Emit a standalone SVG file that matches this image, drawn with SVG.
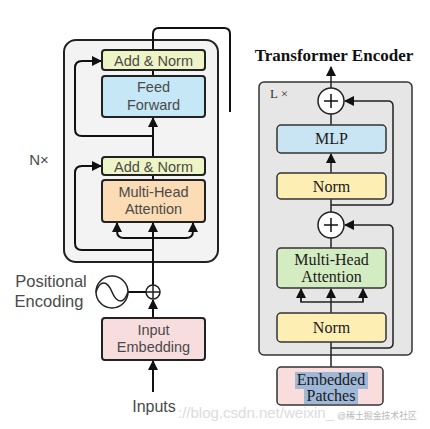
<svg xmlns="http://www.w3.org/2000/svg" width="430" height="429" viewBox="0 0 430 429">
<defs>
<style>
.lt{font-family:"Liberation Sans",Arial,sans-serif;fill:#4a4a4a;text-anchor:middle}
.lb{stroke:#222;stroke-width:2}
.ln{fill:none;stroke:#111;stroke-width:2}
.rt{font-family:"Liberation Serif","Times New Roman",serif;fill:#1a1a1a;text-anchor:middle;font-size:16px}
.rb{stroke:#333;stroke-width:1.5}
.rl{fill:none;stroke:#222;stroke-width:1.5}
</style>
<marker id="al" viewBox="0 0 10 10" refX="9" refY="5" markerWidth="5" markerHeight="5" orient="auto"><path d="M0,0 L10,5 L0,10 z" fill="#111"/></marker>
<marker id="ar" viewBox="0 0 10 10" refX="9" refY="5" markerWidth="7" markerHeight="7" orient="auto"><path d="M0,0 L10,5 L0,10 z" fill="#111"/></marker>
</defs>
<rect width="430" height="429" fill="#fff"/>

<!-- LEFT: original Transformer encoder -->
<g id="left-block">
<rect x="64" y="40" width="154" height="222" rx="12" fill="#f3f3f3" class="lb"/>
</g>
<text class="lt" x="39" y="165" font-size="15">N×</text>

<g id="connectors-left">
<path class="ln" d="M153,50 V34 Q153,28 159,28 H224 Q230,28 230,34 V112"/>
<line class="ln" x1="153" y1="70" x2="153" y2="76"/>
<line class="ln" x1="153" y1="157" x2="153" y2="118" marker-end="url(#al)"/>
<path class="ln" d="M153,136 H82 Q75,136 75,129 V68 Q75,61 82,61 H101" marker-end="url(#al)"/>
<line class="ln" x1="153" y1="175" x2="153" y2="180"/>
<path class="ln" d="M153,250 H82 Q75,250 75,243 V173 Q75,166 82,166 H101" marker-end="url(#al)"/>
<line class="ln" x1="153" y1="285" x2="153" y2="223" marker-end="url(#al)"/>
<path class="ln" d="M153,238 H124 Q117,238 117,231 V223" marker-end="url(#al)"/>
<path class="ln" d="M153,238 H186 Q193,238 193,231 V223" marker-end="url(#al)"/>
<line class="ln" x1="128" y1="292" x2="146" y2="292"/>
<line class="ln" x1="153" y1="318" x2="153" y2="300" marker-end="url(#al)"/>
<line class="ln" x1="153" y1="392" x2="153" y2="361" marker-end="url(#al)"/>
</g>

<g id="add-norm-1">
<rect x="102" y="50" width="103" height="20" rx="3" fill="#eff4c6" class="lb"/>
<text class="lt" x="153.5" y="65.5" font-size="14.5">Add &amp; Norm</text>
</g>
<g id="feed-forward">
<rect x="102" y="76" width="103" height="41" rx="3" fill="#c6e7f5" class="lb"/>
<text class="lt" x="153.5" y="92" font-size="14.5">Feed</text>
<text class="lt" x="153.5" y="110" font-size="14.5">Forward</text>
</g>
<g id="add-norm-2">
<rect x="102" y="157" width="103" height="18" rx="3" fill="#eff4c6" class="lb"/>
<text class="lt" x="153.5" y="171.5" font-size="14.5">Add &amp; Norm</text>
</g>
<g id="mha-left">
<rect x="102" y="180" width="103" height="42" rx="3" fill="#fbdcb5" class="lb"/>
<text class="lt" x="153.5" y="196.5" font-size="14.5">Multi-Head</text>
<text class="lt" x="153.5" y="214" font-size="14.5">Attention</text>
</g>
<g id="pos-enc">
<circle cx="112" cy="292" r="16" fill="#fff" stroke="#222" stroke-width="1.5"/>
<path d="M96,292 C100,280 107,280 112,292 C117,304 124,304 128,292" fill="none" stroke="#222" stroke-width="1.5"/>
<text class="lt" x="51" y="287" font-size="16.5" fill="#5a5a5a">Positional</text>
<text class="lt" x="49" y="307" font-size="16.5" fill="#5a5a5a">Encoding</text>
</g>
<g id="plus-left">
<circle cx="153" cy="292" r="7" fill="#fff" stroke="#222" stroke-width="1.5"/>
<path d="M146,292 H160 M153,285 V299" stroke="#222" stroke-width="1.5"/>
</g>
<g id="input-embedding">
<rect x="102" y="318" width="103" height="42" rx="3" fill="#f7dddd" class="lb"/>
<text class="lt" x="153.5" y="335" font-size="14.5">Input</text>
<text class="lt" x="153.5" y="352" font-size="14.5">Embedding</text>
</g>
<text class="lt" x="154" y="412" font-size="16">Inputs</text>

<!-- RIGHT: ViT Transformer Encoder -->
<text x="334" y="61" font-family="'Liberation Serif','Times New Roman',serif" font-weight="bold" font-size="17" text-anchor="middle" fill="#111">Transformer Encoder</text>
<g id="right-block">
<rect x="259" y="82" width="153" height="273" rx="5" fill="#e6e6e6" class="rb"/>
<text x="270" y="98" font-family="'Liberation Serif','Times New Roman',serif" font-size="13" fill="#333">L ×</text>
</g>

<g id="connectors-right">
<line class="rl" x1="331" y1="88" x2="331" y2="67" marker-end="url(#ar)"/>
<line class="rl" x1="331" y1="125" x2="331" y2="114"/>
<line class="rl" x1="331" y1="173" x2="331" y2="154" marker-end="url(#ar)"/>
<path class="rl" d="M331,205 H388 Q393,205 393,200 V106 Q393,101 388,101 H345" marker-end="url(#ar)"/>
<line class="rl" x1="331" y1="212" x2="331" y2="199"/>
<line class="rl" x1="331" y1="248" x2="331" y2="238"/>
<line class="rl" x1="331" y1="313" x2="331" y2="289" marker-end="url(#ar)"/>
<path class="rl" d="M301,289 V302 H363 V289" />
<line class="rl" x1="301" y1="302" x2="301" y2="289" marker-end="url(#ar)"/>
<line class="rl" x1="363" y1="302" x2="363" y2="289" marker-end="url(#ar)"/>
<line class="rl" x1="331" y1="367" x2="331" y2="342"/>
<path class="rl" d="M331,348 H388 Q393,348 393,343 V230 Q393,225 388,225 H345" marker-end="url(#ar)"/>
</g>

<g id="plus-1">
<circle cx="331" cy="101" r="13" fill="#fff" stroke="#222" stroke-width="1.5"/>
<path d="M324,101 H338 M331,94 V108" stroke="#111" stroke-width="1.5"/>
</g>
<g id="mlp">
<rect x="277" y="125" width="109" height="28" rx="4" fill="#c9e5f4" class="rb"/>
<text class="rt" x="331.5" y="144">MLP</text>
</g>
<g id="norm-1">
<rect x="277" y="173" width="109" height="26" rx="4" fill="#fdeeb4" class="rb"/>
<text class="rt" x="331.5" y="192">Norm</text>
</g>
<g id="plus-2">
<circle cx="331" cy="225" r="13" fill="#fff" stroke="#222" stroke-width="1.5"/>
<path d="M324,225 H338 M331,218 V232" stroke="#111" stroke-width="1.5"/>
</g>
<g id="mha-right">
<rect x="277" y="248" width="109" height="40" rx="4" fill="#d4ecc1" class="rb"/>
<text class="rt" x="331.5" y="265">Multi-Head</text>
<text class="rt" x="331.5" y="282">Attention</text>
</g>
<g id="norm-2">
<rect x="277" y="313" width="109" height="29" rx="4" fill="#fdeeb4" class="rb"/>
<text class="rt" x="331.5" y="333">Norm</text>
</g>
<g id="embedded-patches">
<rect x="277" y="367" width="106" height="38" rx="4" fill="#f9dcdc" class="rb"/>
<rect x="295" y="372" width="73" height="17" fill="#9fb8d8"/>
<rect x="304" y="389" width="54" height="15" fill="#9fb8d8"/>
<text class="rt" x="331" y="385" font-size="15" fill="#2c3e5c">Embedded</text>
<text class="rt" x="331" y="401" font-size="15" fill="#2c3e5c">Patches</text>
</g>

<text x="178" y="418" font-family="'Liberation Sans',Arial,sans-serif" font-size="14" fill="#d4d4d4" opacity="0.8" textLength="156" lengthAdjust="spacingAndGlyphs">://blog.csdn.net/weixin_</text>
<text x="337" y="419" font-family="'Liberation Sans','Noto Sans CJK SC',sans-serif" font-size="9.5" fill="#bbbbbb" textLength="80" lengthAdjust="spacingAndGlyphs">@稀土掘金技术社区</text>
</svg>
